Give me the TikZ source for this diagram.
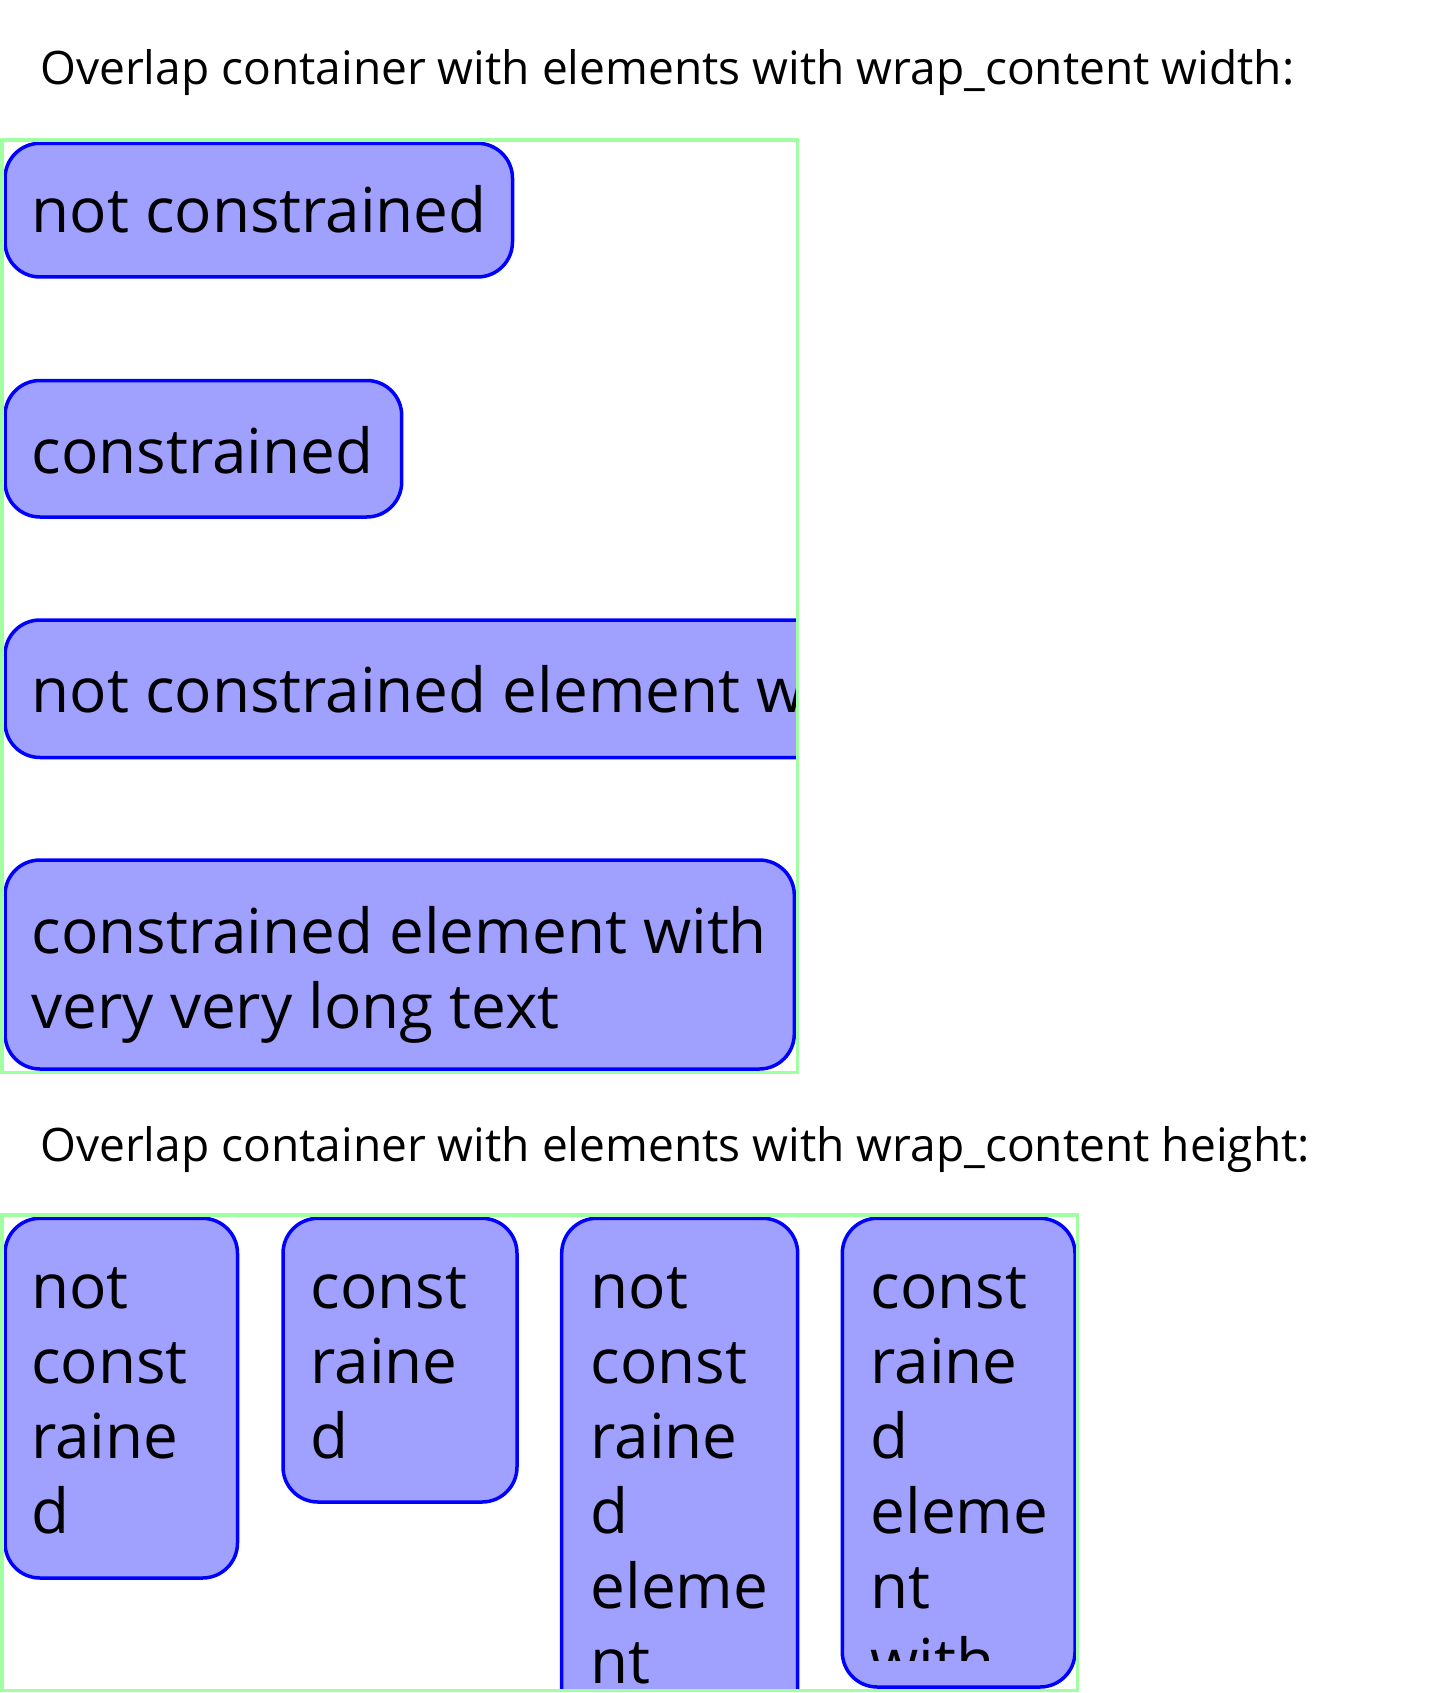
\documentclass[tikz,border=0pt]{standalone}
\usepackage{fontspec}
\setmainfont{Open Sans}
\definecolor{boxfill}{RGB}{160,160,255}
\definecolor{boxline}{RGB}{0,0,255}
\definecolor{contline}{RGB}{160,255,160}
\newcommand\stk[1]{\vtop{\baselineskip=75pt\lineskiplimit=-200pt\lineskip=0pt #1}}
\newcommand\lyn[1]{\hbox{#1}}
\begin{document}
\begin{tikzpicture}[x=1pt,y=-1pt,
  elem/.style={draw=boxline,fill=boxfill,line width=3.5pt,rounded corners=35pt},
  cont/.style={draw=contline,line width=3.5pt},
  ttl/.style={anchor=base west,inner sep=0pt,font=\fontsize{46.1}{55}\selectfont},
  lbl/.style={anchor=base west,inner sep=0pt,font=\fontsize{62}{75}\selectfont}]
\useasboundingbox (0,0) rectangle (1440,1693);
\fill[white] (0,0) rectangle (1440,1693);
% titles
\node[ttl] (title1) at (40,85) {Overlap container with elements with wrap\_content width:};
\node[ttl] (title2) at (40,1161) {Overlap container with elements with wrap\_content height:};
% top container
\begin{scope}
  \clip (2,140) rectangle (797.7,1072.3);
  \draw[elem] (5,143.3) rectangle (512.5,277);
  \node[lbl] (t1) at (31.5,233) {not constrained};
  \draw[elem] (5,380.5) rectangle (401.7,517);
  \node[lbl] (t2) at (31.5,473) {constrained};
  \draw[elem] (5,620) rectangle (1000,757.5);
  \node[lbl] (t3) at (31.5,712) {not constrained element with very very long text};
  \draw[elem] (5,860) rectangle (794.3,1069);
  \node[lbl] (t4) at (31.5,953) {\stk{\lyn{constrained element with}\lyn{very very long text}}};
\end{scope}
\draw[cont] (2,140) rectangle (797.7,1072.3);
% bottom container
\begin{scope}
  \clip (2,1215) rectangle (1077.7,1690.5);
  \draw[elem] (5,1218.3) rectangle (237.5,1578);
  \node[lbl] (u1) at (31,1308) {\stk{\lyn{not}\lyn{const}\lyn{raine}\lyn{d}}};
  \draw[elem] (283,1218.3) rectangle (517,1502);
  \node[lbl] (u2) at (310.5,1308) {\stk{\lyn{const}\lyn{raine}\lyn{d}}};
  \draw[elem] (561.7,1218.3) rectangle (797.7,1900);
  \node[lbl] (u3) at (590.5,1308) {\stk{\lyn{not}\lyn{const}\lyn{raine}\lyn{d}\lyn{eleme}\lyn{nt}}};
  \draw[elem] (842.3,1218.3) rectangle (1075,1687);
  \begin{scope}
    \clip (842,1218) rectangle (1076,1660);
    \node[lbl] (u4) at (870.5,1308) {\stk{\lyn{const}\lyn{raine}\lyn{d}\lyn{eleme}\lyn{nt}\lyn{with}}};
  \end{scope}
\end{scope}
\draw[cont] (2,1215) rectangle (1077.7,1690.5);
\end{tikzpicture}
\end{document}
